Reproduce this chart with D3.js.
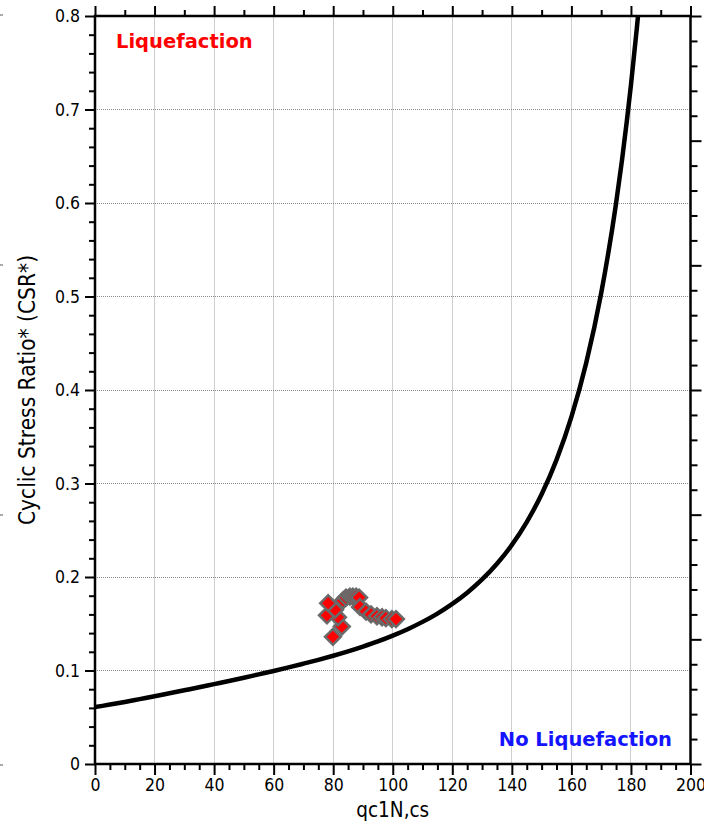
<!DOCTYPE html>
<html>
<head>
<meta charset="utf-8">
<script src="https://cdn.jsdelivr.net/npm/d3@7"></script>
<style>
  html, body { margin: 0; padding: 0; background: #fff; }
  svg { display: block; }
</style>
</head>
<body>
<svg id="chart" width="704" height="827"></svg>
<script>
// ---- data ----
const curveQ   = [0, 5, 10, 15, 20, 25, 30, 35, 40, 45, 50, 55, 60, 65, 70, 75, 80, 85, 90, 95, 100,
                  105, 110, 115, 120, 125, 130, 135, 140, 145, 150, 155, 160, 165, 170, 175, 177, 180, 182, 182.4];
const curveCSR = [0.0608, 0.0636, 0.0664, 0.0694, 0.0724, 0.0756, 0.0788, 0.0820, 0.0854, 0.0888, 0.0923,
                  0.0959, 0.0995, 0.1033, 0.1073, 0.1114, 0.1158, 0.1205, 0.1256, 0.1311, 0.1373,
                  0.1442, 0.1520, 0.1609, 0.1712, 0.1832, 0.1974, 0.2142, 0.2343, 0.2588, 0.2885,
                  0.3253, 0.3713, 0.4293, 0.5035, 0.5996, 0.6460, 0.7261, 0.7877, 0.8009];
const pointQ   = [79.9, 82.9, 81.6, 77.9, 80.6, 78.3, 83.3, 84.3, 85.6, 86.6, 87.7, 88.7, 89.0,
                  91.0, 92.7, 94.7, 96.4, 97.7, 99.7, 101.1];
const pointCSR = [0.136, 0.147, 0.157, 0.159, 0.165, 0.172, 0.175, 0.178, 0.179, 0.179, 0.179, 0.178,
                  0.168, 0.163, 0.160, 0.158, 0.157, 0.156, 0.155, 0.155];
const xTickValues = [0, 20, 40, 60, 80, 100, 120, 140, 160, 180, 200];
const xTickLabels = ["0", "20", "40", "60", "80", "100", "120", "140", "160", "180", "200"];
const yTickValues = [0, 0.1, 0.2, 0.3, 0.4, 0.5, 0.6, 0.7, 0.8];
const yTickLabels = ["0", "0.1", "0.2", "0.3", "0.4", "0.5", "0.6", "0.7", "0.8"];
const xTitle = "qc1N,cs";
const yTitle = "Cyclic Stress Ratio* (CSR*)";
const zoneLiq = "Liquefaction";
const zoneNoLiq = "No Liquefaction";

// ---- layout ----
const L = 95, R = 690.5, T = 16, B = 764;
const FONT = "'DejaVu Sans Condensed', 'DejaVu Sans', sans-serif";
const svg = d3.select("#chart");
svg.append("rect").attr("width", 704).attr("height", 827).attr("fill", "#fff");

const x = d3.scaleLinear().domain([0, 200]).range([L, R]);
const y = d3.scaleLinear().domain([0, 0.8]).range([B, T]);
const yR = d3.scaleLinear().domain([0, 6]).range([B, T]);

// grid
const grid = svg.append("g");
grid.selectAll("line.v").data(xTickValues.filter(v => v > 0 && v < 200)).join("line")
  .attr("x1", d => x(d)).attr("x2", d => x(d)).attr("y1", T).attr("y2", B)
  .attr("stroke", "#cfcfcf").attr("stroke-width", 1).attr("shape-rendering", "crispEdges");
grid.selectAll("line.h").data(yTickValues.filter(v => v > 0 && v < 0.8)).join("line")
  .attr("x1", L).attr("x2", R).attr("y1", d => y(d)).attr("y2", d => y(d))
  .attr("stroke", "#8a8a8a").attr("stroke-width", 1).attr("stroke-dasharray", "1,1")
  .attr("shape-rendering", "crispEdges");

// curve
const curveData = curveQ.map((q, i) => [q, curveCSR[i]]);
svg.append("defs").append("clipPath").attr("id", "plotclip")
  .append("rect").attr("x", L).attr("y", T).attr("width", R - L).attr("height", B - T);
svg.append("path").datum(curveData)
  .attr("clip-path", "url(#plotclip)")
  .attr("fill", "none").attr("stroke", "#000").attr("stroke-width", 4.5)
  .attr("stroke-linejoin", "round")
  .attr("d", d3.line().x(d => x(d[0])).y(d => y(d[1])).curve(d3.curveMonotoneX));

// points
const pts = pointQ.map((q, i) => [q, pointCSR[i]]);
svg.append("g").selectAll("path").data(pts).join("path")
  .attr("transform", d => `translate(${x(d[0])},${y(d[1])}) rotate(45)`)
  .attr("d", d3.symbol().type(d3.symbolSquare).size(125))
  .attr("fill", "#ff0000").attr("stroke", "#6a6a6a").attr("stroke-width", 2.5);

// axes helpers
function styleAxis(g) {
  g.select(".domain").remove();
  g.selectAll(".tick line").attr("stroke", "#000").attr("stroke-width", 2);
  g.selectAll("text").attr("font-family", FONT).attr("font-size", 17.5).attr("fill", "#000");
}
// bottom
const xMinor = d3.range(0, 201, 5).filter(v => v % 20 !== 0);
svg.append("g").attr("transform", `translate(0,${B})`)
  .call(d3.axisBottom(x).tickValues(xMinor).tickSize(6).tickFormat(""))
  .call(styleAxis);
svg.append("g").attr("transform", `translate(0,${B})`)
  .call(d3.axisBottom(x).tickValues(xTickValues).tickSize(11).tickPadding(4)
    .tickFormat((d, i) => xTickLabels[i]))
  .call(styleAxis);
// top
svg.append("g").attr("transform", `translate(0,${T})`)
  .call(d3.axisTop(x).tickValues(d3.range(10, 200, 20)).tickSize(6).tickFormat(""))
  .call(styleAxis);
svg.append("g").attr("transform", `translate(0,${T})`)
  .call(d3.axisTop(x).tickValues(xTickValues).tickSize(10).tickFormat(""))
  .call(styleAxis);
// left
const yMinor = d3.range(0, 41, 1).map(v => v * 0.02).filter((v, i) => i % 5 !== 0);
svg.append("g").attr("transform", `translate(${L},0)`)
  .call(d3.axisLeft(y).tickValues(yMinor).tickSize(6).tickFormat(""))
  .call(styleAxis);
svg.append("g").attr("transform", `translate(${L},0)`)
  .call(d3.axisLeft(y).tickValues(yTickValues).tickSize(10).tickPadding(5)
    .tickFormat((d, i) => yTickLabels[i]))
  .call(styleAxis);
// right (unlabelled secondary)
const rMinor = d3.range(0, 31, 1).map(v => v * 0.2).filter((v, i) => i % 5 !== 0);
svg.append("g").attr("transform", `translate(${R},0)`)
  .call(d3.axisRight(yR).tickValues(rMinor).tickSize(7).tickFormat(""))
  .call(styleAxis);
svg.append("g").attr("transform", `translate(${R},0)`)
  .call(d3.axisRight(yR).tickValues(d3.range(0, 7)).tickSize(11).tickFormat(""))
  .call(styleAxis);

// frame
svg.append("rect").attr("x", L).attr("y", T).attr("width", R - L).attr("height", B - T)
  .attr("fill", "none").attr("stroke", "#000").attr("stroke-width", 2.5);

// zone labels
svg.append("text").attr("x", 116).attr("y", 48)
  .attr("font-family", "'DejaVu Sans', sans-serif").attr("font-weight", "bold").attr("font-size", 19.5)
  .attr("fill", "#ff0000").text(zoneLiq);
svg.append("text").attr("x", 672).attr("y", 746).attr("text-anchor", "end")
  .attr("font-family", "'DejaVu Sans', sans-serif").attr("font-weight", "bold").attr("font-size", 19.5)
  .attr("fill", "#1414ff").text(zoneNoLiq);

// titles
svg.append("text").attr("x", (L + R) / 2 + 0).attr("y", 817).attr("text-anchor", "middle")
  .attr("font-family", FONT).attr("font-size", 20.5).attr("fill", "#000").text(xTitle);
svg.append("text").attr("transform", "translate(35,390) rotate(-90)").attr("text-anchor", "middle")
  .attr("font-family", FONT).attr("font-size", 22.5).attr("fill", "#000").text(yTitle);

// stray tick marks at far left edge (from neighbouring panel)
svg.append("g").selectAll("line").data([15, 265, 515, 765]).join("line")
  .attr("x1", 0).attr("x2", 3).attr("y1", d => d).attr("y2", d => d)
  .attr("stroke", "#555").attr("stroke-width", 1);
</script>
</body>
</html>
